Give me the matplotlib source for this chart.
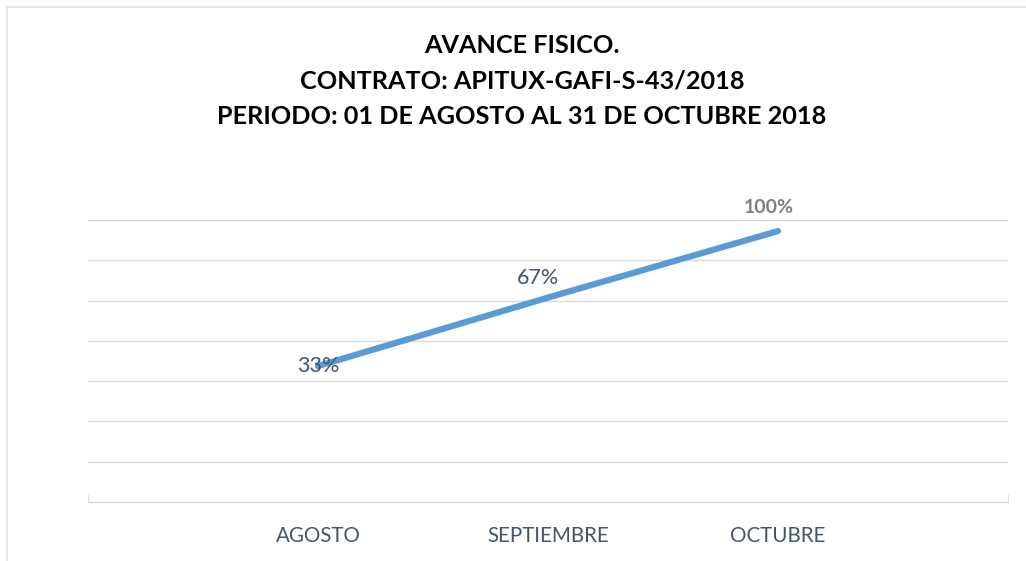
import numpy as np
import matplotlib.pyplot as plt
from matplotlib.patches import Rectangle

plt.rcParams['font.family'] = ['Lato', 'DejaVu Sans']

meses = ["AGOSTO", "SEPTIEMBRE", "OCTUBRE"]
avance = [0.33, 0.67, 1.00]
etiquetas = ["33%", "67%", "100%"]

titulo = ("AVANCE FISICO.\n"
          "CONTRATO: APITUX-GAFI-S-43/2018\n"
          "PERIODO: 01 DE AGOSTO AL 31 DE OCTUBRE 2018")

fig = plt.figure(figsize=(10.26, 5.61), dpi=100)

# borde del area del grafico (recortado a la derecha y abajo)
fig.patches.append(Rectangle((6.5/1026, -0.1), 1.2, 1 - 6.5/561 + 0.1,
                             transform=fig.transFigure, fill=False,
                             edgecolor="#e3e6ec", lw=1.5))

ax = fig.add_axes([88/1026, 59/561, 920/1026, 282/561])

x = np.arange(1, len(meses) + 1)
ax.plot(x, avance, color="#5b9bd5", lw=4.5, solid_capstyle="round")

# eje y oculto, solo lineas de cuadricula
y0 = -0.345
ax.set_ylim(y0, y0 + 1.4)
ax.set_yticks(y0 + 0.2 * np.arange(8))
ax.yaxis.grid(True, color="#d9d9d9", lw=1)
ax.tick_params(axis="y", left=False, labelleft=False)

ax.set_xlim(0, 4)
ax.set_xticks(x)
ax.set_xticklabels(meses)
ax.set_xticks([0, 2, 4], minor=True)
ax.tick_params(axis="x", which="major", length=0, pad=17, labelsize=14.8,
               labelcolor="#44546a")
ax.tick_params(axis="x", which="minor", length=6, color="#d9d9d9", direction="in")

for s in ["top", "left", "right"]:
    ax.spines[s].set_visible(False)
ax.spines["bottom"].set_color("#d9d9d9")

# etiquetas de datos
ax.annotate(etiquetas[0], (x[0], avance[0]), ha="center", va="center",
            fontsize=15.5, color="#44546a")
ax.annotate(etiquetas[1], (x[1], avance[1]), xytext=(-7, 14), textcoords="offset points",
            ha="center", va="center", fontsize=15.5, color="#44546a")
ax.annotate(etiquetas[2], (x[2], avance[2]), xytext=(-7, 17), textcoords="offset points",
            ha="center", va="center", fontsize=14, color="#7f7f7f", fontweight="bold")

fig.text(522/1026, 1 - 81/561, titulo, ha="center", va="center", fontsize=18.2,
         fontweight="bold", linespacing=1.65)

fig.savefig("out.png", dpi=100)
